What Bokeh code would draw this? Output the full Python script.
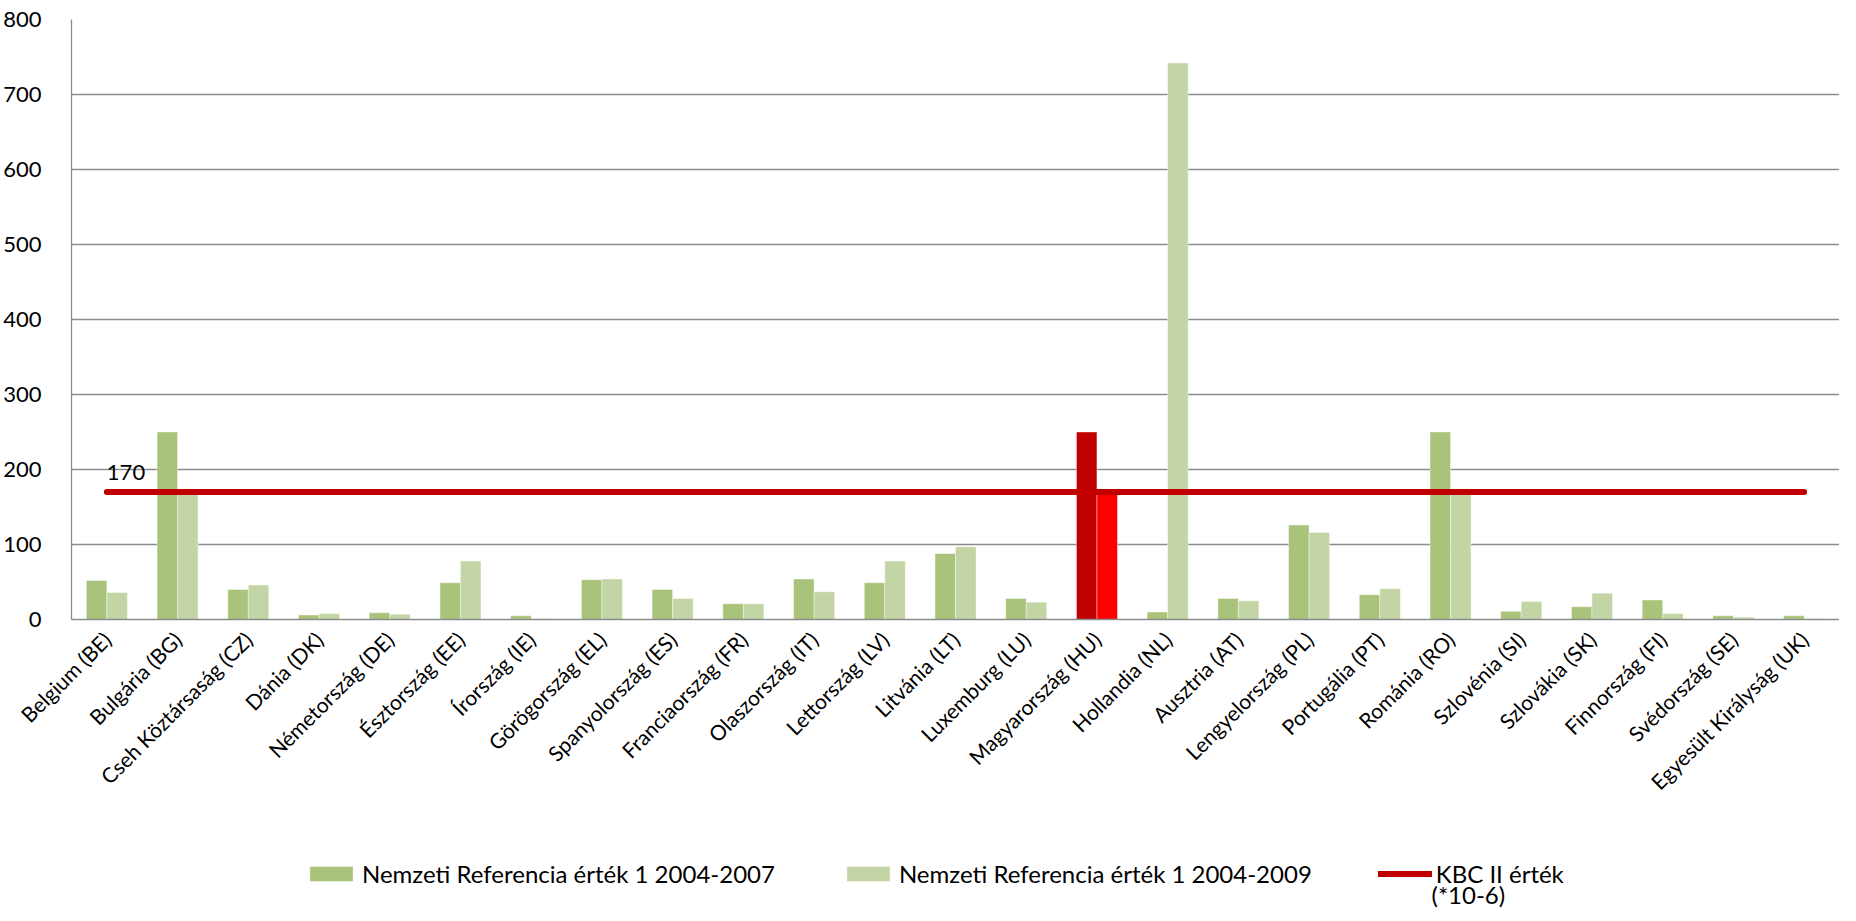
import math
from bokeh.plotting import figure
from bokeh.layouts import column
from bokeh.models import (FactorRange, Range1d, SingleIntervalTicker, ColumnDataSource,
                          Legend, LegendItem, Label)
from bokeh.transform import dodge
from bokeh.core.properties import value
from bokeh.embed import file_html
from bokeh.resources import INLINE

countries = [
    "Belgium (BE)", "Bulgária (BG)", "Cseh Köztársaság (CZ)", "Dánia (DK)",
    "Németország (DE)", "Észtország (EE)", "Írország (IE)", "Görögország (EL)",
    "Spanyolország (ES)", "Franciaország (FR)", "Olaszország (IT)", "Lettország (LV)",
    "Litvánia (LT)", "Luxemburg (LU)", "Magyarország (HU)", "Hollandia (NL)",
    "Ausztria (AT)", "Lengyelország (PL)", "Portugália (PT)", "Románia (RO)",
    "Szlovénia (SI)", "Szlovákia (SK)", "Finnország (FI)", "Svédország (SE)",
    "Egyesült Királyság (UK)",
]
ref_2004_2007 = [52, 250, 40, 6, 9, 49, 5, 53, 40, 21, 54, 49, 88, 28, 250, 10,
                 28, 126, 33, 250, 11, 17, 26, 5, 5]
ref_2004_2009 = [36, 170, 46, 8, 7, 78, 1, 54, 28, 21, 37, 78, 97, 23, 170, 742,
                 25, 116, 41, 170, 24, 35, 8, 3, 1]
kbc_ii = [170, 170, 170, 170, 170, 170, 170, 170, 170, 170, 170, 170, 170, 170,
          170, 170, 170, 170, 170, 170, 170, 170, 170, 170, 170]
y_ticks_max = 800
y_tick_step = 100

series_names = ["Nemzeti Referencia érték 1 2004-2007",
                "Nemzeti Referencia érték 1 2004-2009",
                "KBC II érték"]
unit_note = "(*10-6)"

GREEN_07 = "#A9C47A"
GREEN_09 = "#C3D5A5"
RED_LINE = "#C00000"
highlight = "Magyarország (HU)"
c07 = ["#C00000" if c == highlight else GREEN_07 for c in countries]
c09 = ["#FF0000" if c == highlight else GREEN_09 for c in countries]

source = ColumnDataSource(dict(country=countries, v07=ref_2004_2007, v09=ref_2004_2009,
                               c07=c07, c09=c09))

FONT = "Lato"
GRID = "#8C8C8C"
W = 1839

# ---- main chart ----
p = figure(x_range=FactorRange(*countries), y_range=Range1d(0, y_ticks_max),
           width=W, height=851,
           min_border_left=71, min_border_top=19, min_border_right=0, min_border_bottom=232,
           output_backend="svg", toolbar_location=None)
p.outline_line_color = None
p.background_fill_color = "white"
p.border_fill_color = "white"

p.vbar(x=dodge("country", -0.145, range=p.x_range), top="v07", width=0.29,
       source=source, fill_color="c07", line_color="white", line_alpha=0.4, line_width=1)
p.vbar(x=dodge("country", 0.145, range=p.x_range), top="v09", width=0.29,
       source=source, fill_color="c09", line_color="white", line_alpha=0.4, line_width=1)
p.line(x=countries, y=kbc_ii, line_color=RED_LINE, line_width=6, line_cap="round")

p.text(x=[countries[0]], y=[kbc_ii[0]], text=[str(kbc_ii[0])],
       text_font=value(FONT), text_font_size="22px", text_color="black",
       text_baseline="bottom", text_align="left", y_offset=-12)

p.yaxis.ticker = SingleIntervalTicker(interval=y_tick_step)
p.yaxis.major_tick_line_color = None
p.yaxis.minor_tick_line_color = None
p.yaxis.axis_line_color = GRID
p.yaxis.axis_line_width = 1.3
p.yaxis.major_label_standoff = 24
p.yaxis.major_label_text_font = FONT
p.yaxis.major_label_text_font_size = "22px"
p.yaxis.major_label_text_color = "black"

p.xaxis.major_tick_line_color = None
p.xaxis.minor_tick_line_color = None
p.xaxis.axis_line_color = GRID
p.xaxis.axis_line_width = 1.3
p.xaxis.major_label_orientation = math.pi / 4
p.xaxis.major_label_standoff = 10
p.xaxis.major_label_text_font = FONT
p.xaxis.major_label_text_font_size = "21px"
p.xaxis.major_label_text_color = "black"

p.xgrid.grid_line_color = None
p.ygrid.grid_line_color = GRID
p.ygrid.grid_line_width = 1.3

# ---- legend strip: proxy renderers lie far outside its visible range ----
lg = figure(x_range=Range1d(0, 1), y_range=Range1d(0, 1),
            width=W, height=60, min_border=0, min_border_left=0, min_border_right=0,
            min_border_top=0, min_border_bottom=0,
            x_axis_location=None, y_axis_location=None,
            output_backend="svg", toolbar_location=None)
lg.outline_line_color = None
lg.xgrid.grid_line_color = None
lg.ygrid.grid_line_color = None
lg.border_fill_color = "white"
lg.background_fill_color = "white"

proxy = ColumnDataSource(dict(x=[50, 51], top=[0.5, 0.5], y=[0.5, 0.5]))
l07 = lg.vbar(x="x", top="top", width=0.1, source=proxy, fill_color=GREEN_07,
              line_color="white", line_alpha=0.4, line_width=1)
l09 = lg.vbar(x="x", top="top", width=0.1, source=proxy, fill_color=GREEN_09,
              line_color="white", line_alpha=0.4, line_width=1)
lline = lg.line(x="x", y="y", source=proxy, line_color=RED_LINE, line_width=6,
                line_cap="round")

legend = Legend(items=[
    LegendItem(label=series_names[0], renderers=[l07]),
    LegendItem(label=series_names[1], renderers=[l09]),
    LegendItem(label=series_names[2], renderers=[lline]),
], orientation="horizontal", location=(233, 23),
    glyph_width=54, glyph_height=19, label_standoff=4, spacing=66,
    label_text_font=FONT, label_text_font_size="24px", label_text_color="black",
    border_line_color=None, background_fill_alpha=0, padding=0, margin=0)
lg.add_layout(legend, "center")

note = Label(x=1360, y=17, x_units="screen", y_units="screen", text=unit_note,
             text_font=FONT, text_font_size="24px", text_color="black",
             text_baseline="middle", text_align="left")
lg.add_layout(note)

layout = column(p, lg, spacing=0)
open("out.html", "w").write(file_html(layout, INLINE))
